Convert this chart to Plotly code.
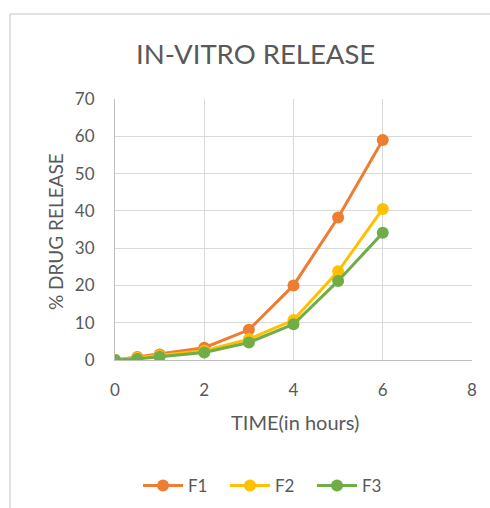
import plotly.graph_objects as go

time_h = [0, 0.5, 1, 2, 3, 4, 5, 6]
f1 = [0, 0.8, 1.5, 3.3, 8.1, 20.0, 38.2, 59.0]
f2 = [0, 0.6, 1.2, 2.5, 5.6, 10.7, 23.8, 40.5]
f3 = [0, 0.3, 0.9, 2.0, 4.7, 9.6, 21.2, 34.1]
series = [("F1", f1, "#ED7D31"), ("F2", f2, "#FFC000"), ("F3", f3, "#70AD47")]

FONT = "Lato"
GRAY = "#595959"

fig = go.Figure()
for name, vals, col in series:
    fig.add_trace(go.Scatter(
        x=time_h, y=vals, name=name, mode="lines+markers",
        line=dict(color=col, width=3),
        marker=dict(color=col, size=12),
    ))

W, H = 490, 508
L, R, T, B = 115, 18, 99, 148
pw, ph = W - L - R, H - T - B

def px(x):
    return (x - L) / pw

def py(y):
    return (H - B - y) / ph

fig.update_layout(
    width=W, height=H,
    margin=dict(l=L, r=R, t=T, b=B, autoexpand=False),
    paper_bgcolor="white", plot_bgcolor="white",
    font=dict(family=FONT, color=GRAY),
    showlegend=True,
    legend=dict(orientation="h", xref="container", yref="container",
                x=138 / W, xanchor="left", y=1 - 486 / H, yanchor="middle",
                font=dict(size=17, color=GRAY), itemwidth=40, tracegroupgap=0,
                entrywidth=32, entrywidthmode="pixels"),
    xaxis=dict(range=[0, 8], tickvals=[0, 2, 4, 6, 8], showgrid=True, gridcolor="#D9D9D9",
               gridwidth=1, zeroline=False, showline=True, linecolor="#BFBFBF", linewidth=1,
               ticks="outside", ticklen=15, tickcolor="rgba(0,0,0,0)",
               tickfont=dict(size=17, color=GRAY), fixedrange=True),
    yaxis=dict(range=[0, 70], tickvals=list(range(0, 71, 10)), showgrid=True, gridcolor="#D9D9D9",
               gridwidth=1, zeroline=False, showline=True, linecolor="#BFBFBF", linewidth=1,
               ticks="outside", ticklen=16, tickcolor="rgba(0,0,0,0)",
               tickfont=dict(size=17, color=GRAY), fixedrange=True),
    annotations=[
        dict(text="IN-VITRO RELEASE", x=px(255), y=py(53), xref="paper", yref="paper",
             showarrow=False, font=dict(size=27.5, color=GRAY), xanchor="center", yanchor="middle"),
        dict(text="TIME(in hours)", x=px(295), y=py(422), xref="paper", yref="paper",
             showarrow=False, font=dict(size=20, color=GRAY), xanchor="center", yanchor="middle"),
        dict(text="% DRUG RELEASE", x=px(55), y=py(231), xref="paper", yref="paper",
             showarrow=False, font=dict(size=19, color=GRAY), textangle=-90,
             xanchor="center", yanchor="middle"),
    ],
    shapes=[
        dict(type="rect", xref="paper", yref="paper", x0=px(10), x1=px(520), y0=py(530), y1=py(14),
             line=dict(color="#D9D9D9", width=1.5), fillcolor="rgba(0,0,0,0)", layer="below"),
    ],
)

fig.write_html("out.html")
